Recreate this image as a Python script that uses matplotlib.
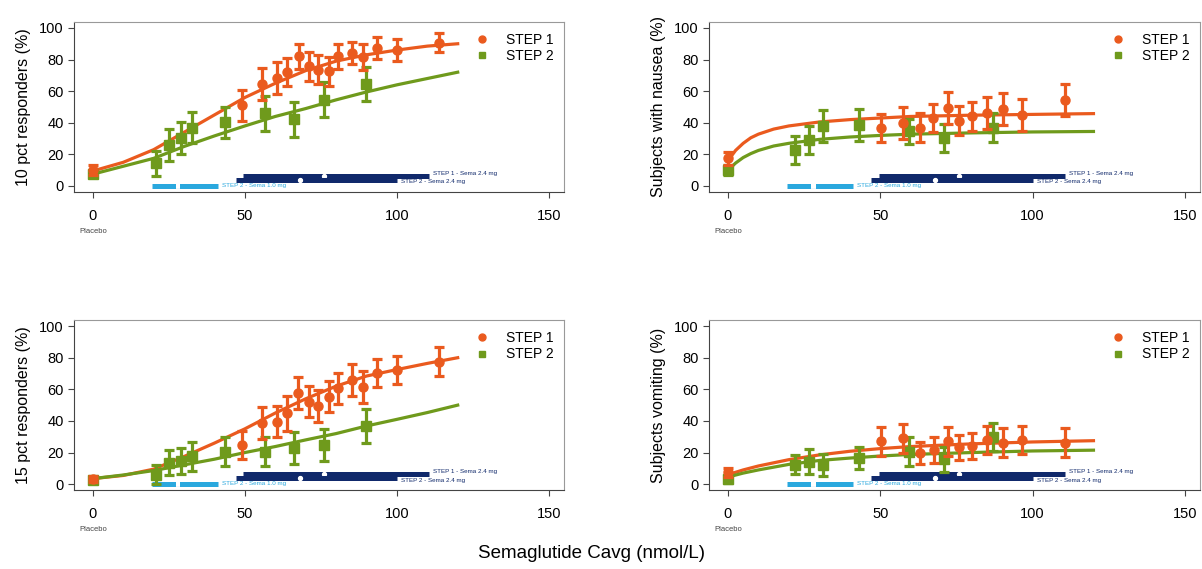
import numpy as np
import matplotlib
matplotlib.use("Agg")
import matplotlib.pyplot as plt
from matplotlib.lines import Line2D

plt.rcParams["font.family"] = ["Liberation Sans", "DejaVu Sans"]

ORANGE = "#ea5a1e"
GREEN = "#6f9a1c"
NAVY = "#10296b"
LBLUE = "#2aa8de"

# ---- 10 pct responders ----
r10_s1_x = [0, 49, 55.7, 60.6, 63.8, 67.8, 71, 73.9, 77.6, 80.7, 85.2, 88.9, 93.6, 99.9, 113.7]
r10_s1_y = [10, 51, 64.5, 68.3, 72, 82, 75.7, 73.6, 72.5, 82, 84, 81.6, 87.3, 86.3, 90.5]
r10_s1_e = [3, 10, 10, 10, 9, 8, 9, 9, 9, 8, 7, 8, 7, 7, 6]
r10_s2_x = [0, 20.7, 25.1, 28.9, 32.7, 43.3, 56.5, 66.3, 76, 89.8]
r10_s2_y = [7.6, 14.4, 26, 30.2, 37, 40.2, 46, 42.3, 54.5, 64.5]
r10_s2_e = [2, 8, 10, 10, 10, 10, 11, 11, 11, 11]
r10_fit_x = [0, 10, 20, 30, 40, 50, 60, 70, 80, 90, 100, 110, 120]
r10_fit_s1 = [9.5, 15, 23, 34, 45, 56, 65, 73, 79, 83, 86, 88.5, 90]
r10_fit_s2 = [7.5, 12.5, 17.5, 25, 31.7, 38, 44, 49, 54.5, 59.5, 64, 68, 72]

# ---- nausea ----
nau_s1_x = [0, 50.2, 57.6, 63, 67.2, 72.3, 76, 80, 85.1, 90.2, 96.7, 110.7]
nau_s1_y = [17.5, 36.6, 39.7, 37, 42.9, 49.3, 41.4, 44, 46, 48.6, 45, 54.5]
nau_s1_e = [4, 9, 10, 9, 9, 10, 9, 9, 10, 10, 10, 10]
nau_s2_x = [0, 22, 26.5, 31.3, 42.9, 59.3, 71, 87]
nau_s2_y = [10, 22.8, 29.2, 38, 38.7, 34.5, 30.2, 37]
nau_s2_e = [3, 9, 9, 10, 10, 8, 9, 9]
nau_fit_x = [0, 2.5, 5, 7.5, 10, 15, 20, 30, 40, 50, 60, 80, 100, 120]
nau_fit_s1 = [16, 22.5, 27, 30.5, 32.8, 36, 38, 40.5, 42, 43, 44, 44.8, 45.3, 45.8]
nau_fit_s2 = [10, 14.5, 18, 20.5, 22.5, 25.3, 27, 29.5, 31, 32, 32.8, 33.6, 34.2, 34.5]

# ---- 15 pct responders ----
r15_s1_x = [0, 49, 55.7, 60.6, 63.8, 67.6, 71, 73.9, 77.6, 80.7, 85.2, 88.9, 93.6, 99.9, 113.7]
r15_s1_y = [3.2, 24.8, 38.5, 39.6, 44.8, 57.5, 52.2, 49.5, 55.4, 60.6, 65.9, 61.3, 70.5, 72.2, 77.5]
r15_s1_e = [2, 9, 10, 10, 11, 10, 10, 10, 10, 10, 10, 10, 9, 9, 9]
r15_s2_x = [0, 20.7, 25.1, 28.9, 32.7, 43.3, 56.5, 66.3, 76, 89.8]
r15_s2_y = [2.7, 5.9, 13.7, 14.7, 17.5, 20.6, 20.6, 22.7, 24.8, 36.8]
r15_s2_e = [2, 6, 8, 8, 9, 9, 9, 10, 10, 11]
r15_fit_x = [0, 10, 20, 30, 40, 50, 60, 70, 80, 90, 100, 110, 120]
r15_fit_s1 = [3.5, 5.5, 9.5, 17.5, 26, 35, 45, 54, 62, 68.4, 72.5, 76.4, 80]
r15_fit_s2 = [3.5, 5.8, 8.6, 12.2, 15.8, 20, 23.8, 28, 32, 36.8, 41, 45.3, 50]

# ---- vomiting ----
vom_s1_x = [0, 50.2, 57.6, 63, 67.5, 72.3, 76, 80, 85.1, 90.2, 96.7, 110.7]
vom_s1_y = [7.4, 27, 29, 19.6, 21.7, 27, 23.4, 24.2, 28, 26.3, 28, 26.3]
vom_s1_e = [3, 9, 9, 7, 8, 9, 8, 8, 9, 9, 9, 9]
vom_s2_x = [0, 22, 26.5, 31.3, 42.9, 59.3, 71, 87]
vom_s2_y = [3, 12.2, 14.3, 12.2, 16.4, 20.6, 15.8, 29.7]
vom_s2_e = [2, 6, 8, 7, 7, 9, 8, 9]
vom_fit_x = [0, 5, 10, 20, 30, 40, 50, 60, 80, 100, 120]
vom_fit_s1 = [6, 9, 11.5, 15.5, 18.5, 20.8, 22.5, 23.8, 25.5, 26.7, 27.5]
vom_fit_s2 = [4.5, 7, 9, 12.5, 15, 16.5, 17.8, 18.8, 20, 21, 21.5]

# exposure ranges (Cavg) per treatment arm: start, end, median
rng_labels = ["STEP 1 - Sema 2.4 mg", "STEP 2 - Sema 2.4 mg", "STEP 2 - Sema 1.0 mg"]
rng_lo = [49.5, 47, 19.5]
rng_hi = [110.5, 100, 41]
rng_med = [76, 68, 28]

YLABELS = ["10 pct responders (%)", "Subjects with nausea (%)",
           "15 pct responders (%)", "Subjects vomiting (%)"]


def panel(ax, s1, s2, fit, ylabel):
    (x1, y1, e1), (x2, y2, e2) = s1, s2
    fx, f1, f2 = fit
    ax.plot(fx, f1, color=ORANGE, lw=2.3, zorder=3)
    ax.plot(fx, f2, color=GREEN, lw=2.3, zorder=3)
    ax.errorbar(x2, y2, yerr=e2, fmt="s", color=GREEN, ms=6.5, lw=2.3,
                capsize=3.8, capthick=2.3, zorder=4)
    ax.errorbar(x1, y1, yerr=e1, fmt="o", color=ORANGE, ms=6.5, lw=2.3,
                capsize=3.8, capthick=2.3, zorder=5)

    # exposure ranges; label offsets keep the two navy labels apart
    ys = [6.5, 3.6, 0.2]
    lab_dy = [1.6, -1.0, 0.3]
    cols = [NAVY, NAVY, LBLUE]
    for lab, lo, hi, med, y, dy, c in zip(rng_labels, rng_lo, rng_hi, rng_med,
                                           ys, lab_dy, cols):
        ax.plot([lo, hi], [y, y], color=c, lw=3.6, solid_capstyle="butt", zorder=2)
        if c == LBLUE:
            ax.plot([med - 0.8, med + 0.8], [y, y], color="white", lw=4.2,
                    solid_capstyle="butt", zorder=2)
        else:
            ax.plot([med], [y], "o", color="white", ms=2.8, zorder=2)
        ax.text(hi + 1.5, y + dy, lab, color=c, fontsize=4.5, va="center",
                ha="left", zorder=2)

    ax.set_xlim(-6.2, 155)
    ax.set_ylim(-4, 104)
    ax.set_xticks([0, 50, 100, 150])
    ax.set_yticks([0, 20, 40, 60, 80, 100])
    ax.tick_params(labelsize=10.5, length=4, color="#444")
    ax.tick_params(axis="x", pad=8)
    ax.set_ylabel(ylabel, fontsize=11.5, labelpad=6)
    ax.text(0, -0.21, "Placebo", transform=ax.get_xaxis_transform(),
            ha="center", va="top", fontsize=5.5, color="#444")
    for side in ("top", "right"):
        ax.spines[side].set_color("#999")
    for side in ("left", "bottom"):
        ax.spines[side].set_color("#444")

    handles = [Line2D([], [], marker="o", ls="none", color=ORANGE, ms=5, label="STEP 1"),
               Line2D([], [], marker="s", ls="none", color=GREEN, ms=4.5, label="STEP 2")]
    ax.legend(handles=handles, loc="upper right", bbox_to_anchor=(0.995, 0.985),
              frameon=False, fontsize=10, handletextpad=1.2, handlelength=1.0,
              labelspacing=0.2, borderaxespad=0.2)


fig = plt.figure(figsize=(12.02, 5.69), dpi=100)
axes = [fig.add_axes([0.0616, 0.662, 0.4077, 0.300]),
        fig.add_axes([0.5899, 0.662, 0.4085, 0.300]),
        fig.add_axes([0.0616, 0.138, 0.4077, 0.300]),
        fig.add_axes([0.5899, 0.138, 0.4085, 0.300])]

panel(axes[0], (r10_s1_x, r10_s1_y, r10_s1_e), (r10_s2_x, r10_s2_y, r10_s2_e),
      (r10_fit_x, r10_fit_s1, r10_fit_s2), YLABELS[0])
panel(axes[1], (nau_s1_x, nau_s1_y, nau_s1_e), (nau_s2_x, nau_s2_y, nau_s2_e),
      (nau_fit_x, nau_fit_s1, nau_fit_s2), YLABELS[1])
panel(axes[2], (r15_s1_x, r15_s1_y, r15_s1_e), (r15_s2_x, r15_s2_y, r15_s2_e),
      (r15_fit_x, r15_fit_s1, r15_fit_s2), YLABELS[2])
panel(axes[3], (vom_s1_x, vom_s1_y, vom_s1_e), (vom_s2_x, vom_s2_y, vom_s2_e),
      (vom_fit_x, vom_fit_s1, vom_fit_s2), YLABELS[3])

fig.text(0.492, 0.028, "Semaglutide Cavg (nmol/L)", ha="center", va="center",
         fontsize=13.5)

fig.savefig("out.png", dpi=100)
